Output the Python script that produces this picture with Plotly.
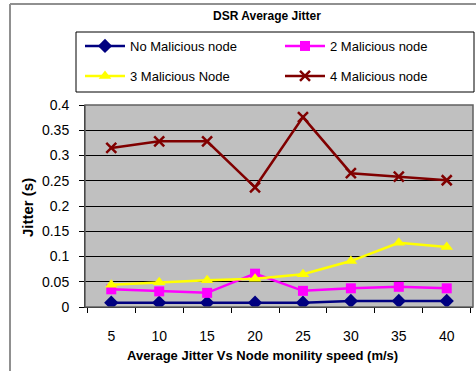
import plotly.graph_objects as go

# Node mobility speed (m/s) and average jitter (s) per scenario
speeds = ["5", "10", "15", "20", "25", "30", "35", "40"]
no_malicious = [0.0085, 0.0085, 0.0085, 0.0085, 0.0085, 0.012, 0.012, 0.012]
two_malicious = [0.035, 0.031, 0.028, 0.066, 0.032, 0.037, 0.040, 0.037]
three_malicious = [0.044, 0.049, 0.053, 0.056, 0.065, 0.091, 0.127, 0.119]
four_malicious = [0.315, 0.328, 0.328, 0.237, 0.376, 0.265, 0.258, 0.251]

y_ticks = [0, 0.05, 0.1, 0.15, 0.2, 0.25, 0.3, 0.35, 0.4]
y_tick_text = ["0", "0.05", "0.1", "0.15", "0.2", "0.25", "0.3", "0.35", "0.4"]

FONT = "Arial, Liberation Sans, sans-serif"

L, R, T, B = 85, 3, 105, 64
W, H = 476, 371
pw, ph = W - L - R, H - T - B


def px_x(px):
    return (px - L) / pw


def px_y(py):
    return (H - B - py) / ph


# name, values, colour, marker, marker size, marker outline, legend id, legend slot (x, y)
series = [
    ("No Malicious node", no_malicious, "#000080", "diamond", 11, 0, "legend", (80, 46)),
    ("2 Malicious node", two_malicious, "#FF00FF", "square", 10, 0, "legend2", (280, 46)),
    ("3 Malicious Node", three_malicious, "#FFFF00", "triangle-up", 11, 0, "legend3", (80, 76)),
    ("4 Malicious node", four_malicious, "#800000", "x-thin", 10, 2.5, "legend4", (280, 76)),
]

fig = go.Figure()
legends = {}
for name, vals, color, symbol, size, mlw, leg, (lx, ly) in series:
    fig.add_trace(go.Scatter(
        x=speeds, y=vals, name=name, mode="lines+markers",
        line=dict(color=color, width=2.5),
        marker=dict(symbol=symbol, size=size, color=color,
                    line=dict(color=color, width=mlw)),
        legend=leg,
    ))
    legends[leg] = dict(
        x=px_x(lx), y=px_y(ly), xanchor="left", yanchor="middle",
        bgcolor="rgba(0,0,0,0)", borderwidth=0,
        font=dict(family=FONT, size=13, color="black"),
        itemwidth=40,
    )

fig.update_layout(
    width=W, height=H,
    margin=dict(l=L, r=R, t=T, b=B),
    paper_bgcolor="white",
    plot_bgcolor="#C0C0C0",
    font=dict(family=FONT, size=12, color="black"),
    title=dict(text="<b>DSR Average Jitter</b>", x=267 / W, xanchor="center",
               y=1 - 16 / H, yanchor="middle",
               font=dict(family=FONT, size=12, color="black")),
    xaxis=dict(
        type="category", tickson="boundaries", ticks="outside", ticklen=5,
        tickcolor="black", tickwidth=1, showgrid=False,
        showline=True, linecolor="black", linewidth=1,
        ticklabelstandoff=16,
        tickfont=dict(family=FONT, size=14, color="black"),
    ),
    yaxis=dict(
        range=[0, 0.4], tickvals=y_ticks, ticktext=y_tick_text,
        ticks="outside", ticklen=5, tickcolor="black", tickwidth=1,
        showgrid=True, gridcolor="black", gridwidth=1,
        showline=True, linecolor="black", linewidth=1, zeroline=False,
        ticklabelstandoff=7,
        tickfont=dict(family=FONT, size=14, color="black"),
    ),
    showlegend=True,
    **legends,
)

# Plot area frame, legend box and outer chart border
fig.add_shape(type="rect", xref="paper", yref="paper", x0=0, x1=1, y0=0, y1=1,
              line=dict(color="#606060", width=1.5))
fig.add_shape(type="rect", xref="paper", yref="paper",
              x0=px_x(76), x1=px_x(474), y0=px_y(92), y1=px_y(32),
              line=dict(color="black", width=1), fillcolor="white", layer="below")
fig.add_shape(type="line", xref="paper", yref="paper",
              x0=px_x(10), x1=px_x(10), y0=px_y(380), y1=px_y(4),
              line=dict(color="#909090", width=2))
fig.add_shape(type="line", xref="paper", yref="paper",
              x0=px_x(10), x1=px_x(480), y0=px_y(4), y1=px_y(4),
              line=dict(color="#909090", width=2))

# Axis titles
fig.add_annotation(text="<b>Average Jitter Vs Node monility speed (m/s)</b>",
                   xref="paper", yref="paper", x=px_x(262), y=px_y(355),
                   showarrow=False, xanchor="center", yanchor="middle",
                   font=dict(family=FONT, size=13, color="black"))
fig.add_annotation(text="<b>Jitter (s)</b>", textangle=-90,
                   xref="paper", yref="paper", x=px_x(27), y=px_y(208),
                   showarrow=False, xanchor="center", yanchor="middle",
                   font=dict(family=FONT, size=15, color="black"))

fig.write_html("out.html")
